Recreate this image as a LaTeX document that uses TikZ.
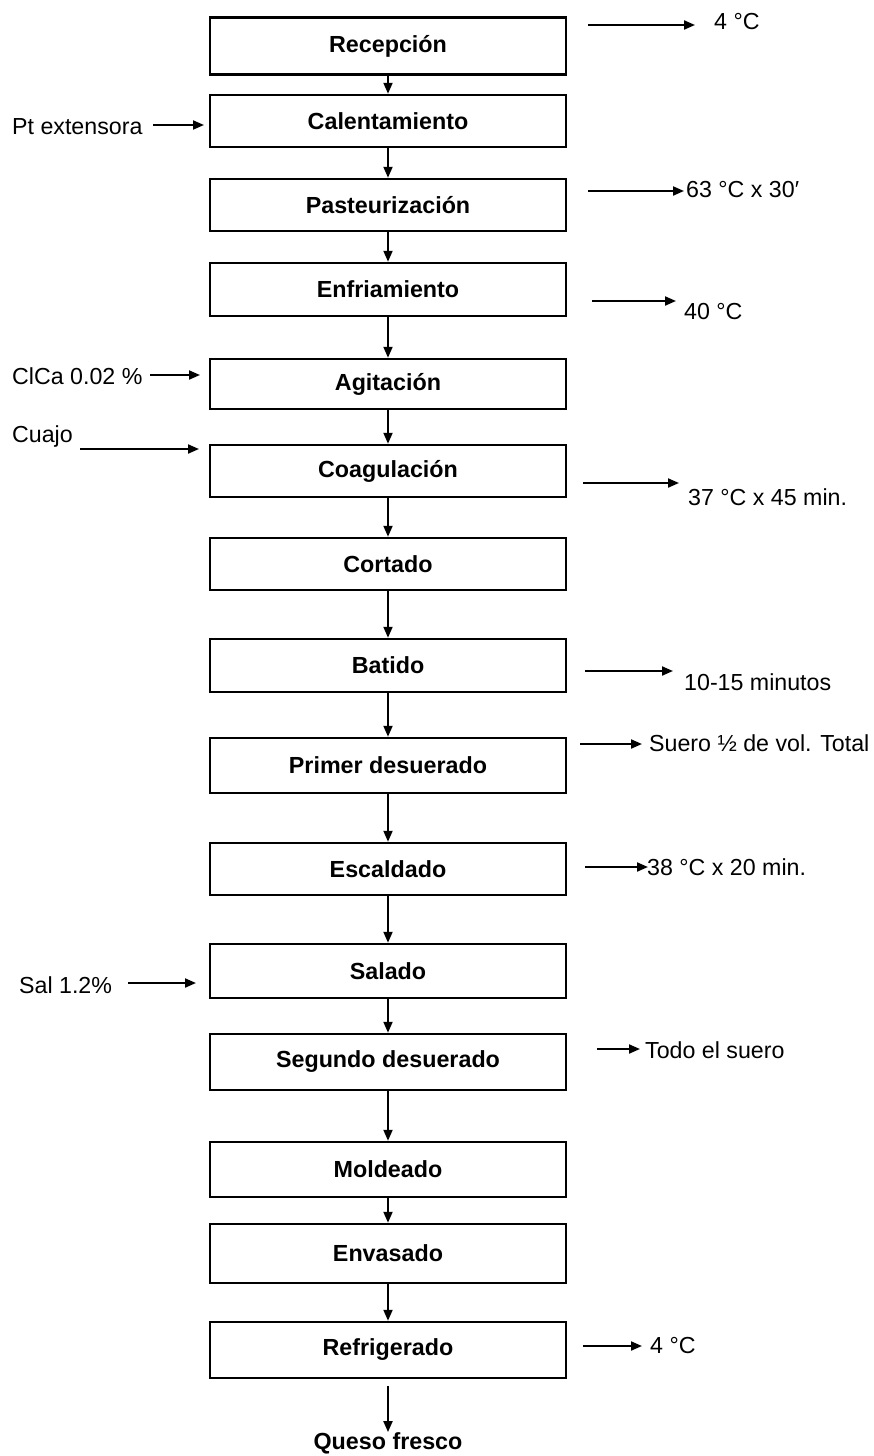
\documentclass[tikz,border=0pt]{standalone}
\usepackage{fontspec}
\setmainfont{Liberation Sans}
\usetikzlibrary{arrows.meta}
\begin{document}
\begin{tikzpicture}[x=1pt,y=-1pt,
  box/.style={draw, line width=2.5pt, minimum width=356pt, inner sep=0pt, font=\fontsize{23.3}{27}\selectfont\bfseries},
  lbl/.style={inner sep=0pt, anchor=west, font=\fontsize{23.2}{27}\selectfont},
  arr/.style={-{Triangle[length=11pt,width=9pt]}, line width=2pt}]
\useasboundingbox (0,0) rectangle (874,1456);
\fill[white] (0,0) rectangle (874,1456);
% process boxes
\node[box, minimum height=57pt] (b1) at (388,46) {Recepción};
\node[box, minimum height=52pt] (b2) at (388,121) {Calentamiento};
\node[box, minimum height=52pt] (b3) at (388,205) {Pasteurización};
\node[box, minimum height=53pt] (b4) at (388,289.5) {Enfriamiento};
\node[box, minimum height=50pt] (b5) at (388,384) {Agitación};
\node[box, minimum height=52pt] (b6) at (388,471) {Coagulación};
\node[box, minimum height=52pt] (b7) at (388,564) {Cortado};
\node[box, minimum height=53pt] (b8) at (388,665.5) {Batido};
\node[box, minimum height=55pt] (b9) at (388,765.5) {Primer desuerado};
\node[box, minimum height=52pt] (b10) at (388,869) {Escaldado};
\node[box, minimum height=54pt] (b11) at (388,971) {Salado};
\node[box, minimum height=56pt] (b12) at (388,1062) {Segundo desuerado};
\node[box, minimum height=55pt] (b13) at (388,1169.5) {Moldeado};
\node[box, minimum height=59pt] (b14) at (388,1253.5) {Envasado};
\node[box, minimum height=56pt] (b15) at (388,1350) {Refrigerado};
\node[inner sep=0pt, font=\fontsize{23.3}{27}\selectfont\bfseries] (q) at (388,1443) {Queso fresco};
% main flow
\foreach \a/\b in {b1/b2,b2/b3,b3/b4,b4/b5,b5/b6,b6/b7,b7/b8,b8/b9,b9/b10,b10/b11,b11/b12,b12/b13,b13/b14,b14/b15}
  \draw[arr] (\a.south) -- (\b.north);
\draw[arr, shorten <=7pt] (b15.south) -- (q.north);
% right side outputs
\coordinate (r1s) at (588,25);   \coordinate (r1e) at (695,25);
\node[lbl] (t1) at (714,22) {4 °C};
\coordinate (r3s) at (588,191);  \coordinate (r3e) at (684,191);
\node[lbl] (t3) at (686,190) {63 °C x 30′};
\coordinate (r4s) at (592,301);  \coordinate (r4e) at (676,301);
\node[lbl] (t4) at (684,312) {40 °C};
\coordinate (r6s) at (583,483);  \coordinate (r6e) at (679,483);
\node[lbl] (t6) at (688,497) {37 °C x 45 min.};
\coordinate (r8s) at (585,671);  \coordinate (r8e) at (673,671);
\node[lbl] (t8) at (684,682) {10-15 minutos};
\coordinate (r9s) at (580,744);  \coordinate (r9e) at (642,744);
\node[lbl] (t9) at (649,743) {Suero ½ de vol. Total};
\coordinate (r10s) at (585,867); \coordinate (r10e) at (648,867);
\node[lbl] (t10) at (647,867) {38 °C x 20 min.};
\coordinate (r12s) at (597,1049); \coordinate (r12e) at (640,1049);
\node[lbl] (t12) at (645,1050) {Todo el suero};
\coordinate (r15s) at (583,1346); \coordinate (r15e) at (642,1346);
\node[lbl] (t15) at (650,1345) {4 °C};
\foreach \i in {1,3,4,6,8,9,10,12,15}
  \draw[arr] (r\i s) -- (r\i e);
% left side inputs
\node[lbl] (l2) at (12,127) {Pt extensora};
\coordinate (l2s) at (153,125); \coordinate (l2e) at (204,125);
\node[lbl] (l5) at (12,376) {ClCa 0.02 \%};
\coordinate (l5s) at (150,375); \coordinate (l5e) at (200,375);
\node[lbl] (l6) at (12,436) {Cuajo};
\coordinate (l6s) at (80,449); \coordinate (l6e) at (199,449);
\node[lbl] (l11) at (19,985) {Sal 1.2\%};
\coordinate (l11s) at (128,983); \coordinate (l11e) at (196,983);
\foreach \i in {2,5,6,11}
  \draw[arr] (l\i s) -- (l\i e);
\end{tikzpicture}
\end{document}
